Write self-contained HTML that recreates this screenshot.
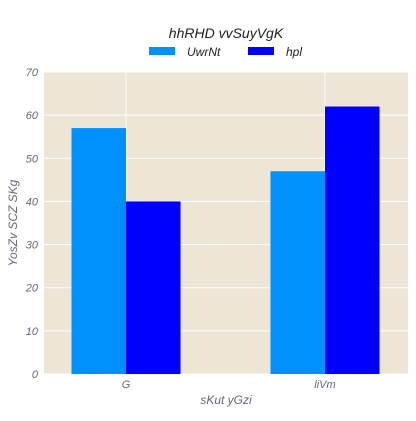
<!DOCTYPE html>
<html><head><meta charset="utf-8"><style>
body{margin:0;background:#fff;width:416px;height:416px;overflow:hidden}
svg{font-family:"Liberation Sans",sans-serif;font-style:italic}
</style></head><body>
<svg width="416" height="416">
<text x="226" y="38" text-anchor="middle" font-size="14" fill="#222">hhRHD vvSuyVgK</text>
<g>
<rect x="149" y="47" width="26" height="8" fill="#0091ff"/>
<text x="187" y="56" font-size="12" fill="#222">UwrNt</text>
<rect x="248" y="47" width="26" height="8" fill="#0000ff"/>
<text x="286" y="56" font-size="12" fill="#222">hpl</text>
</g>
<rect x="44" y="72" width="364" height="302" fill="#ede6d6"/>
<g id="grid"></g><g id="bars"></g><g id="axes"></g>
<text x="226" y="404" text-anchor="middle" font-size="12" fill="#667">sKut yGzi</text>
<text transform="translate(17,223) rotate(-90)" text-anchor="middle" font-size="12" fill="#667">YosZv  SCZ SKg</text>
</svg>
<script>
const categories=["G","liVm"];
const seriesNames=["UwrNt","hpl"];
const seriesA=[57,47];
const seriesB=[40,62];
const yTicks=[0,10,20,30,40,50,60,70];
const colors=["#0091ff","#0000ff"];
const NS="http://www.w3.org/2000/svg";
const y=v=>374-v*(302/70);
const xc=i=>126+199*i;
const bw=54.5;
function mk(t,a,p){const e=document.createElementNS(NS,t);for(const k in a)e.setAttribute(k,a[k]);p.appendChild(e);return e;}
const grid=document.getElementById('grid'),bars=document.getElementById('bars'),axes=document.getElementById('axes');
yTicks.forEach(t=>{
 const l=mk('line',{x1:44,x2:408,y1:y(t),y2:y(t),stroke:'#fff','stroke-width':1},grid);
 
 
 const tx=mk('text',{x:38,y:y(t)+4,'text-anchor':'end','font-size':11,fill:'#667'},axes);
 tx.textContent=t;
 
 
});
categories.forEach((c,i)=>{
 const l=mk('line',{x1:xc(i),x2:xc(i),y1:72,y2:374,stroke:'#fff','stroke-width':1},grid);
 
 
 const tx=mk('text',{x:xc(i),y:388,'text-anchor':'middle','font-size':11,fill:'#667'},axes);
 tx.textContent=c;
 
 
 [seriesA,seriesB].forEach((s,j)=>{
  const r=mk('rect',{x:xc(i)-bw+j*bw,y:y(s[i]),width:bw,height:374-y(s[i]),fill:colors[j]},bars);
  
  
 });
});
</script>
</body></html>
